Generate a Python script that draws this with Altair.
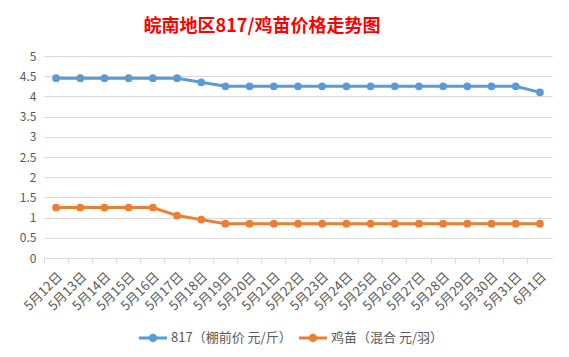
import altair as alt
import pandas as pd

dates = ["5月12日", "5月13日", "5月14日", "5月15日", "5月16日", "5月17日", "5月18日",
         "5月19日", "5月20日", "5月21日", "5月22日", "5月23日", "5月24日", "5月25日",
         "5月26日", "5月27日", "5月28日", "5月29日", "5月30日", "5月31日", "6月1日"]
s817 = [4.45, 4.45, 4.45, 4.45, 4.45, 4.45, 4.35, 4.25, 4.25, 4.25, 4.25, 4.25, 4.25,
        4.25, 4.25, 4.25, 4.25, 4.25, 4.25, 4.25, 4.1]
chick = [1.25, 1.25, 1.25, 1.25, 1.25, 1.05, 0.95, 0.85, 0.85, 0.85, 0.85, 0.85, 0.85,
         0.85, 0.85, 0.85, 0.85, 0.85, 0.85, 0.85, 0.85]
series_names = ["817（棚前价 元/斤）", "鸡苗（混合 元/羽）"]
series_colors = ["#5B9BD5", "#ED7D31"]
title_text = "皖南地区817/鸡苗价格走势图"

rows = []
for i, d in enumerate(dates):
    rows.append({"date": d, "series": series_names[0], "value": s817[i]})
    rows.append({"date": d, "series": series_names[1], "value": chick[i]})
df = pd.DataFrame(rows)

FONT = "Noto Sans CJK SC"

x = alt.X("date:N", sort=dates, title=None,
          scale=alt.Scale(type="band", paddingInner=0, paddingOuter=0),
          axis=alt.Axis(labelAngle=-45, bandPosition=0,
                        labelFontSize=13, labelColor="#595959", labelFont=FONT,
                        domainColor="#d9d9d9", tickColor="#d9d9d9", tickSize=5,
                        labelPadding=7, grid=False))
y = alt.Y("value:Q", title=None,
          scale=alt.Scale(domain=[0, 5], nice=False),
          axis=alt.Axis(values=[0, 0.5, 1, 1.5, 2, 2.5, 3, 3.5, 4, 4.5, 5],
                        labelExpr="format(datum.value, '')",
                        labelFontSize=12, labelColor="#595959", labelFont=FONT,
                        domain=False, ticks=False, labelPadding=8,
                        gridColor="#d9d9d9", gridWidth=1))
color = alt.Color("series:N",
                  scale=alt.Scale(domain=series_names, range=series_colors),
                  legend=alt.Legend(title=None, orient="none", direction="horizontal",
                                    legendX=95, legendY=268,
                                    symbolType="M-1,-0.1L1,-0.1L1,0.1L-1,0.1Z M0.3,0A0.3,0.3,0,1,1,-0.3,0A0.3,0.3,0,1,1,0.3,0Z",
                                    symbolSize=784, symbolStrokeWidth=0,
                                    labelFontSize=13, labelColor="#595959", labelFont=FONT,
                                    columnPadding=7, labelOffset=4))

base = alt.Chart(df)
lines = base.mark_line(strokeWidth=3).encode(x=x, y=y, color=color)
points = base.mark_point(filled=True, size=60, opacity=1).encode(x=x, y=y, color=color)

chart = alt.layer(lines, points).properties(
    width=508, height=202,
    autosize=alt.AutoSizeParams(type="none"),
    padding={"left": 36, "top": 48, "right": 9, "bottom": 91},
    title=alt.Title(title_text, color="#FF0000", fontSize=18, fontWeight="bold",
                    font=FONT, anchor="middle", dx=-36, offset=14),
    background="white",
).configure_view(stroke=None)

chart.save("out.html", embed_options={"renderer": "svg", "actions": False})
